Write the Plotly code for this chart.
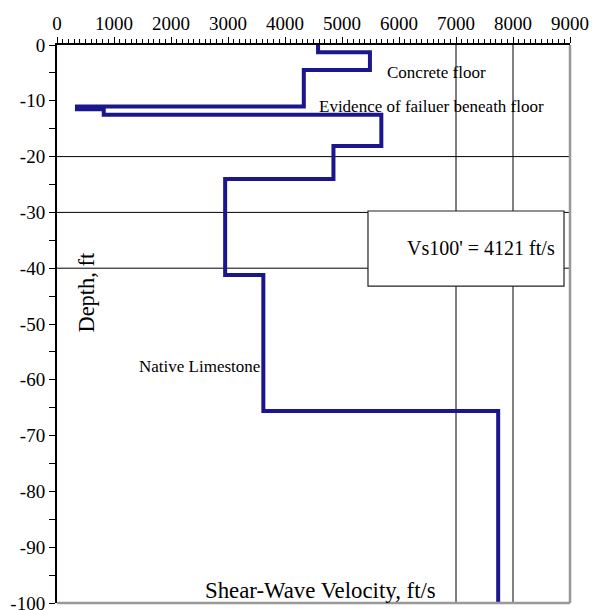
import plotly.graph_objects as go

# Shear-wave velocity profile (step function)
velocity = [4580, 4580, 5490, 5490, 4330, 4330, 350, 350, 820, 820,
            5690, 5690, 4850, 4850, 2950, 2950, 3620, 3620, 7740, 7740]
depth = [0, -1.3, -1.3, -4.5, -4.5, -11.0, -11.0, -11.5, -11.5, -12.5,
         -12.5, -18.1, -18.1, -24.0, -24.0, -41.2, -41.2, -65.6, -65.6, -100]

x_ticks = list(range(0, 9001, 1000))
y_ticks = list(range(-100, 1, 10))
h_grid = [-20, -30, -40]
v_grid = [7000, 8000]

FONT = "Liberation Serif, Times New Roman, serif"
LINE_COLOR = "#1c168c"

fig = go.Figure()
fig.add_trace(go.Scatter(x=velocity, y=depth, mode="lines",
                         line=dict(color=LINE_COLOR, width=4),
                         showlegend=False, hoverinfo="skip"))

shapes = []
for g in h_grid:
    shapes.append(dict(type="line", xref="x", yref="y", x0=0, x1=9000, y0=g, y1=g,
                       line=dict(color="black", width=1), layer="below"))
for g in v_grid:
    shapes.append(dict(type="line", xref="x", yref="y", x0=g, x1=g, y0=0, y1=-100,
                       line=dict(color="black", width=1), layer="below"))
# text box
shapes.append(dict(type="rect", xref="x", yref="y", x0=5456, x1=8895, y0=-29.75, y1=-43.2,
                   fillcolor="white", line=dict(color="#222", width=1.2), layer="below"))
# right and bottom borders
shapes.append(dict(type="line", xref="paper", yref="paper", x0=1, x1=1, y0=0, y1=1,
                   line=dict(color="#999", width=2.5)))
shapes.append(dict(type="line", xref="paper", yref="paper", x0=0, x1=1, y0=0, y1=0,
                   line=dict(color="#999", width=2.5)))

annotations = [
    dict(x=5754, y=-5.0, text="Concrete floor", xanchor="left", yanchor="middle",
         showarrow=False, font=dict(size=17, color="black", family=FONT)),
    dict(x=4561, y=-11.1, text="Evidence of failuer beneath floor", xanchor="left",
         yanchor="middle", showarrow=False, font=dict(size=17, color="black", family=FONT)),
    dict(x=1404, y=-57.7, text="Native Limestone", xanchor="left", yanchor="middle",
         showarrow=False, font=dict(size=17, color="black", family=FONT)),
    dict(x=8780, y=-36.4, text="Vs100' = 4121 ft/s", xanchor="right", yanchor="middle",
         showarrow=False, font=dict(size=20, color="black", family=FONT)),
    dict(x=526, y=-44.2, text="Depth, ft", textangle=-90, xanchor="center", yanchor="middle",
         showarrow=False, font=dict(size=22.5, color="black", family=FONT)),
    dict(x=4614, y=-97.7, text="Shear-Wave Velocity, ft/s", xanchor="center",
         yanchor="middle", showarrow=False, font=dict(size=22.8, color="black", family=FONT)),
]

fig.update_layout(
    width=592, height=610,
    margin=dict(l=57, r=22, t=45, b=7),
    paper_bgcolor="white", plot_bgcolor="white",
    font=dict(family=FONT, size=19, color="black"),
    shapes=shapes, annotations=annotations,
    xaxis=dict(side="top", range=[0, 9000], tickvals=x_ticks, ticktext=[str(v) for v in x_ticks],
               showgrid=False, zeroline=False, showline=True, linecolor="black", linewidth=1.5,
               ticks="outside", ticklen=6, tickwidth=1.2, tickcolor="black",
               minor=dict(dtick=100, ticks="outside", ticklen=4, tickwidth=1, tickcolor="black"),
               ticklabeloverflow="allow", automargin=False,
               tickfont=dict(size=19, family=FONT, color="black")),
    yaxis=dict(range=[-100, 0], tickvals=y_ticks, ticktext=[str(v) for v in y_ticks],
               showgrid=False, zeroline=False, showline=True, linecolor="black", linewidth=2,
               ticks="outside", ticklen=6, tickwidth=1.2, tickcolor="black",
               minor=dict(dtick=5, ticks="outside", ticklen=6, tickwidth=1.2, tickcolor="black"),
               ticklabeloverflow="allow", automargin=False,
               tickfont=dict(size=19, family=FONT, color="black")),
)

fig.write_html("out.html")
